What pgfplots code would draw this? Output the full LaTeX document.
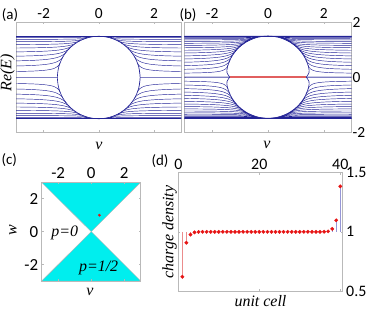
\documentclass[border=0pt]{standalone}
\usepackage{pgfplots}
\pgfplotsset{compat=1.18}
\usepackage{pgfplotstable}
\usepackage{fontspec}
\setmainfont{Carlito}
\newfontfamily\tms{Liberation Serif}
\definecolor{bl}{RGB}{35,35,150}
\definecolor{rl}{RGB}{225,95,95}
\definecolor{cy}{RGB}{0,238,238}
\definecolor{dr}{RGB}{230,20,20}
\definecolor{sr}{RGB}{235,140,140}
\definecolor{sb}{RGB}{150,150,215}
\definecolor{fr}{RGB}{185,185,185}
\pgfplotsset{
 base/.style={scale only axis, axis line style={fr, line width=0.6bp}, tick style={fr, line width=0.5bp}, major tick length=2bp, tick align=inside, tick label style={font=\fontsize{15.5}{16}\selectfont}},
 pa/.style={base, at={(98.75bp,240.5bp)}, anchor=center, width=165.5bp, height=110bp, xmin=-3,xmax=3,ymin=-2,ymax=2},
 pb/.style={base, at={(268bp,240.85bp)}, anchor=center, width=167.4bp, height=109.7bp, xmin=-3,xmax=3,ymin=-2,ymax=2},
 bcurve/.style={color=bl, line width=0.45bp, smooth, unbounded coords=jump},
}
\newcommand\mirror[2]{%
 \begin{axis}[#1, hide axis, x dir=reverse] \addplot[bcurve] table {#2}; \end{axis}
 \begin{axis}[#1, hide axis, y dir=reverse] \addplot[bcurve] table {#2}; \end{axis}
 \begin{axis}[#1, hide axis, x dir=reverse, y dir=reverse] \addplot[bcurve] table {#2}; \end{axis}
}
\begin{document}
\pgfplotstableread{
x y
0 1.5
3 1.5
nan nan
0.1386 1.4936
0.3 1.4886
3 1.4872
nan nan
0.2769 1.4742
0.35 1.4646
0.5 1.4565
0.8 1.4519
1.5 1.4497
3 1.4491
nan nan
0.4139 1.4418
0.5 1.4234
0.6 1.4116
0.8 1.4001
1.0 1.3949
1.5 1.3898
2 1.3881
3 1.3868
nan nan
0.5491 1.3959
0.6 1.3787
0.7 1.3561
0.8 1.3420
1.0 1.3261
1.3 1.3148
1.7 1.3082
2.2 1.3045
3 1.3019
nan nan
0.6822 1.3359
0.75 1.3068
0.85 1.2779
1 1.2515
1.2 1.2316
1.5 1.2160
2 1.2043
2.5 1.1990
3 1.1961
nan nan
0.8118 1.2614
0.9 1.2153
1 1.1807
1.15 1.1477
1.35 1.1217
1.6 1.1031
2 1.0873
2.5 1.0775
3 1.0723
nan nan
0.9383 1.1703
1 1.1278
1.1 1.0796
1.25 1.0342
1.45 0.9985
1.7 0.9729
2 0.9551
2.5 0.9393
3 0.9311
nan nan
1.0607 1.0607
1.12 1.0099
1.2 0.9608
1.35 0.9020
1.55 0.8570
1.8 0.8250
2.2 0.7978
2.6 0.7833
3 0.7746
nan nan
1.1786 0.9279
1.23 0.8721
1.3 0.8178
1.4 0.7653
1.55 0.7158
1.75 0.6765
2 0.6476
2.4 0.6222
3 0.6035
nan nan
1.2914 0.7631
1.33 0.7073
1.38 0.6553
1.45 0.6047
1.55 0.5571
1.7 0.5132
1.9 0.4787
2.2 0.4499
2.6 0.4294
3 0.4180
nan nan
1.3987 0.5419
1.42 0.4950
1.45 0.4480
1.5 0.3964
1.6 0.3380
1.75 0.2936
2 0.2583
2.4 0.2332
3 0.2174
nan nan
1.5 0
3 0
}\dataA
\pgfplotstableread{
x y
0 1.5
3 1.5
nan nan
0.0925 1.4971
3 1.4943
nan nan
0.1849 1.4886
0.25 1.4834
0.4 1.4796
1 1.4776
3 1.4772
nan nan
0.2769 1.4742
0.35 1.4646
0.5 1.4565
0.8 1.4519
1.5 1.4497
3 1.4491
nan nan
0.3684 1.4541
0.45 1.4389
0.55 1.4290
0.75 1.4199
1.1 1.4143
1.8 1.4113
3 1.4101
nan nan
0.4591 1.4280
0.53 1.4099
0.62 1.3958
0.8 1.3810
1.1 1.3707
1.6 1.3648
2.3 1.3620
3 1.3610
nan nan
0.5491 1.3959
0.6 1.3787
0.7 1.3561
0.8 1.3420
1.0 1.3261
1.3 1.3148
1.7 1.3082
2.2 1.3045
3 1.3019
nan nan
0.6379 1.3576
0.7 1.3329
0.8 1.3061
0.95 1.2821
1.15 1.2644
1.45 1.2508
1.9 1.2415
2.5 1.2360
3 1.2338
nan nan
0.7255 1.3129
0.8 1.2787
0.9 1.2479
1.05 1.2192
1.25 1.1972
1.55 1.1797
2 1.1672
2.5 1.1606
3 1.1570
nan nan
0.8118 1.2614
0.9 1.2153
1 1.1807
1.15 1.1477
1.35 1.1217
1.6 1.1031
2 1.0873
2.5 1.0775
3 1.0723
nan nan
0.8965 1.2026
0.96 1.1620
1.05 1.1212
1.2 1.0776
1.4 1.0437
1.65 1.0195
2 1.0008
2.5 0.9871
3 0.9800
nan nan
0.9795 1.1361
1.04 1.0912
1.12 1.0481
1.27 0.9959
1.47 0.9556
1.72 0.9269
2.05 0.9056
2.5 0.8900
3 0.8807
nan nan
1.0607 1.0607
1.12 1.0099
1.2 0.9608
1.35 0.9020
1.55 0.8570
1.8 0.8250
2.2 0.7978
2.6 0.7833
3 0.7746
nan nan
1.1398 0.9751
1.19 0.9244
1.26 0.8728
1.37 0.8181
1.52 0.7714
1.72 0.7337
2 0.7033
2.45 0.6777
3 0.6621
nan nan
1.2168 0.8772
1.26 0.8253
1.32 0.7726
1.42 0.7135
1.56 0.6625
1.75 0.6212
2.05 0.5853
2.5 0.5584
3 0.5432
nan nan
1.2914 0.7631
1.33 0.7073
1.38 0.6553
1.45 0.6047
1.55 0.5571
1.7 0.5132
1.9 0.4787
2.2 0.4499
2.6 0.4294
3 0.4180
nan nan
1.3635 0.6251
1.39 0.5756
1.43 0.5224
1.5 0.4626
1.6 0.4120
1.75 0.3690
2 0.3319
2.4 0.3042
3 0.2861
nan nan
1.4332 0.4428
1.45 0.3973
1.48 0.3444
1.53 0.2930
1.62 0.2446
1.77 0.2063
2 0.1793
2.4 0.1591
3 0.1469
nan nan
1.37 0
3 0
}\dataB
\begin{tikzpicture}
\useasboundingbox (0bp,0bp) rectangle (374bp,318bp);
% ---------- (a)
\begin{axis}[pa, xtick={-2,0,2}, xticklabels={-2,0,2}, xticklabel pos=upper, ytick=\empty]
\addplot[color=bl, line width=0.6bp, smooth] coordinates {(1.4489,-0.3882)(1.5,0)(1.4489,0.3882)(1.2990,0.75)(1.0607,1.0607)(0.75,1.2990)(0.3882,1.4489)(0,1.5)(-0.3882,1.4489)(-0.75,1.2990)(-1.0607,1.0607)(-1.2990,0.75)(-1.4489,0.3882)(-1.5,0)(-1.4489,-0.3882)(-1.2990,-0.75)(-1.0607,-1.0607)(-0.75,-1.2990)(-0.3882,-1.4489)(0,-1.5)(0.3882,-1.4489)(0.75,-1.2990)(1.0607,-1.0607)(1.2990,-0.75)(1.4489,-0.3882)(1.5,0)(1.4489,0.3882)};
\addplot[bcurve] table {\dataA};
\addplot[color=bl, line width=1bp] coordinates {(-3,1.5)(3,1.5)};
\addplot[color=bl, line width=1bp] coordinates {(-3,-1.5)(3,-1.5)};
\end{axis}
\mirror{pa}{\dataA}
% ---------- (b)
\begin{axis}[pb, xtick={-2,0,2}, xticklabels={-2,0,2}, xticklabel pos=upper, ytick={-2,0,2}, yticklabels={-2,0,2}, yticklabel pos=right, yticklabel style={xshift=-2.5bp}]
\addplot[color=bl, line width=0.6bp, smooth] coordinates {(1.37,0)(1.47,0.16)(1.4489,0.3882)(1.2990,0.75)(1.0607,1.0607)(0.75,1.2990)(0.3882,1.4489)(0,1.5)(-0.3882,1.4489)(-0.75,1.2990)(-1.0607,1.0607)(-1.2990,0.75)(-1.4489,0.3882)(-1.47,0.16)(-1.37,0)};
\addplot[color=bl, line width=0.6bp, smooth] coordinates {(1.37,0)(1.47,-0.16)(1.4489,-0.3882)(1.2990,-0.75)(1.0607,-1.0607)(0.75,-1.2990)(0.3882,-1.4489)(0,-1.5)(-0.3882,-1.4489)(-0.75,-1.2990)(-1.0607,-1.0607)(-1.2990,-0.75)(-1.4489,-0.3882)(-1.47,-0.16)(-1.37,0)};
\addplot[bcurve] table {\dataB};
\addplot[color=bl, line width=1bp] coordinates {(-3,1.5)(3,1.5)};
\addplot[color=bl, line width=1bp] coordinates {(-3,-1.5)(3,-1.5)};
\addplot[color=rl, line width=1.8bp] coordinates {(-1.37,0)(1.37,0)};
\end{axis}
\mirror{pb}{\dataB}
% ---------- (c)
\begin{axis}[base, at={(41.7bp,37bp)}, anchor=south west, width=99bp, height=98.7bp, xmin=-3,xmax=3,ymin=-3,ymax=3, xtick={-2,0,2}, xticklabels={-2,0,2}, ytick={-2,0,2}, yticklabels={-2,0,2}, xticklabel pos=upper, tick label style={font=\fontsize{17}{17}\selectfont}, axis on top]
\addplot[fill=cy, draw=gray!60, line width=0.4bp] coordinates {(-3,3)(3,3)(0,0)(-3,3)};
\addplot[fill=cy, draw=gray!60, line width=0.4bp] coordinates {(-3,-3)(3,-3)(0,0)(-3,-3)};
\addplot[only marks, mark=*, mark size=1.2bp, color=dr] coordinates {(0.5,1)};
\node at (axis cs:-1.6,-0.1) {\fontsize{16}{16}\tms\itshape p=0};
\node at (axis cs:0.45,-2.2) {\fontsize{16}{16}\tms\itshape p=1/2};
\end{axis}
% ---------- (d)
\begin{axis}[base, at={(178.3bp,27bp)}, anchor=south west, width=164.4bp, height=118.3bp, xmin=0, xmax=40.6, ymin=0.5, ymax=1.5, xtick={0,20,40}, xticklabels={0,20,40}, ytick={0.5,1,1.5}, yticklabels={0.5,1,1.5}, xticklabel pos=upper, yticklabel pos=right, tick label style={font=\fontsize{16}{16}\selectfont}]
\addplot[color=sr, line width=0.6bp] coordinates {(1,1)(1,0.62)};
\addplot[color=sr, line width=0.6bp] coordinates {(2,1)(2,0.908)};
\addplot[color=sr, line width=0.6bp] coordinates {(3,1)(3,0.977)};
\addplot[color=sb, line width=0.6bp] coordinates {(38,1)(38,1.025)};
\addplot[color=sb, line width=0.6bp] coordinates {(39,1)(39,1.098)};
\addplot[color=sb, line width=0.6bp] coordinates {(40,1)(40,1.385)};
\addplot[only marks, mark=*, mark size=1.7bp, color=dr] coordinates {(1,0.62)(2,0.908)(3,0.977)(4,0.995)(5,0.999)(6,1)(7,1)(8,1)(9,1)(10,1)(11,1)(12,1)(13,1)(14,1)(15,1)(16,1)(17,1)(18,1)(19,1)(20,1)(21,1)(22,1)(23,1)(24,1)(25,1)(26,1)(27,1)(28,1)(29,1)(30,1)(31,1)(32,1)(33,1)(34,1)(35,1)(36,1.001)(37,1.004)(38,1.025)(39,1.098)(40,1.385)};
\end{axis}
% ---------- labels
\node[rotate=90] at (7.5bp,245.3bp) {\fontsize{16}{16}\tms\itshape Re(E)};
\node at (99bp,172.3bp) {\fontsize{16}{16}\tms\itshape v};
\node at (267bp,173bp) {\fontsize{16}{16}\tms\itshape v};
\node at (90bp,26.3bp) {\fontsize{16}{16}\tms\itshape v};
\node[rotate=90] at (13bp,87.5bp) {\fontsize{16}{16}\tms\itshape w};
\node[rotate=90] at (169.5bp,86bp) {\fontsize{16}{16}\tms\itshape charge density};
\node at (260.5bp,17bp) {\fontsize{16}{16}\tms\itshape unit cell};
\node at (10bp,303bp) {\fontsize{15}{15}\selectfont (a)};
\node at (188bp,303.3bp) {\fontsize{15}{15}\selectfont (b)};
\node at (9.2bp,157.5bp) {\fontsize{15}{15}\selectfont (c)};
\node at (160bp,157.2bp) {\fontsize{15}{15}\selectfont (d)};
\end{tikzpicture}
\end{document}
